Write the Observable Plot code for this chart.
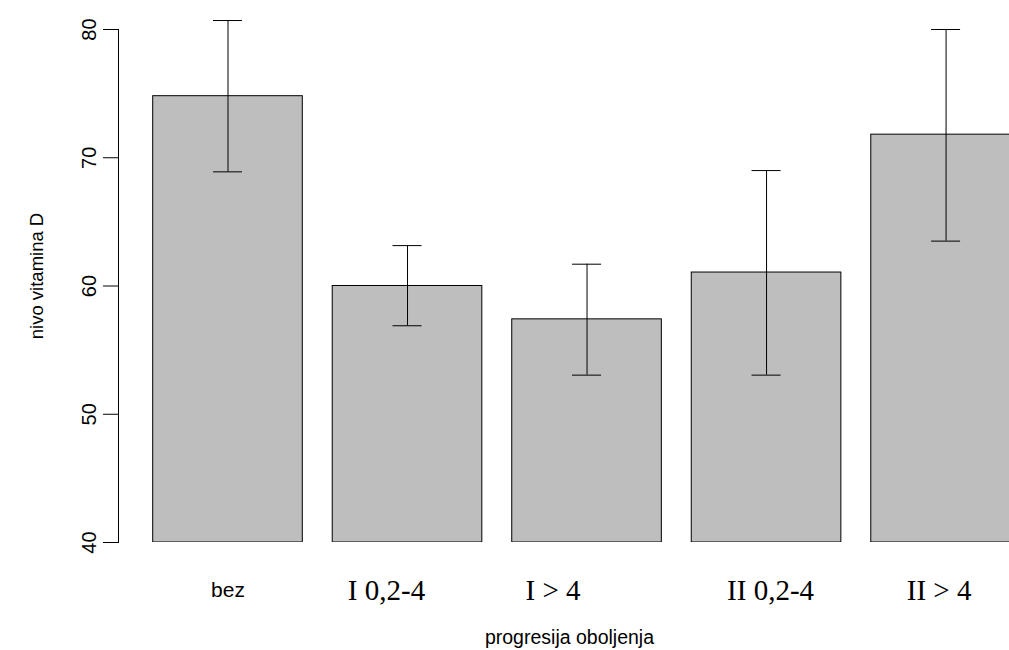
<!DOCTYPE html>
<html>
<head>
<meta charset="utf-8">
<script src="https://cdn.jsdelivr.net/npm/d3@7"></script>
<script src="https://cdn.jsdelivr.net/npm/@observablehq/plot@0.6"></script>
<style>
  html, body { margin: 0; padding: 0; background: #ffffff; overflow: hidden; }
  #chart svg { display: block; }
</style>
</head>
<body>
<div id="chart"></div>
<script>
// ---- data ----
const categories = ["bez", "I 0,2-4", "I > 4", "II 0,2-4", "II > 4"];
const means = [74.8, 60.0, 57.4, 61.05, 71.8];
const lower = [68.9, 56.9, 53.05, 53.05, 63.5];
const upper = [80.7, 63.15, 61.7, 69.0, 80.0];
const yTicks = [40, 50, 60, 70, 80];
const xTitle = "progresija oboljenja";
const yTitle = "nivo vitamina D";

// ---- layout (R barplot style: width 1, space 0.2) ----
const barWidth = 1, space = 0.2;
const capHalf = 0.097;
const labelDx = [0, -21, -34, 4, -7];
const xMin = -0.032, xMax = 5.924;

const rows = categories.map((c, i) => {
  const x1 = space + i * (barWidth + space);
  return {i, cat: c, x1, x2: x1 + barWidth, xc: x1 + barWidth / 2,
          mean: means[i], lo: lower[i], hi: upper[i]};
});
const caps = rows.flatMap(r => [
  {x1: r.xc - capHalf, x2: r.xc + capHalf, y: r.hi},
  {x1: r.xc - capHalf, x2: r.xc + capHalf, y: r.lo}
]);

const chart = Plot.plot({
  width: 1009,
  height: 650,
  marginLeft: 118,
  marginRight: 0,
  marginTop: 29,
  marginBottom: 108,
  style: {background: "#ffffff", color: "#000000"},
  x: {type: "linear", domain: [xMin, xMax], axis: null},
  y: {domain: [40, 80], axis: null},
  marks: [
    Plot.rect(rows, {x1: "x1", x2: "x2", y1: 40, y2: "mean",
      fill: "#bebebe", stroke: "#000000", strokeWidth: 1, clip: true}),
    Plot.ruleX(rows, {x: "xc", y1: "lo", y2: "hi", stroke: "#000000", strokeWidth: 1}),
    Plot.ruleY(caps, {x1: "x1", x2: "x2", y: "y", stroke: "#000000", strokeWidth: 1}),
    // y axis line and ticks
    Plot.frame({anchor: "left", stroke: "#000000", strokeWidth: 1}),
    Plot.axisY({ticks: yTicks, tickSize: 15, tickFormat: () => "", stroke: "#000000", label: null}),
    Plot.text(yTicks, {x: xMin, y: d => d, text: d => String(d), dx: -29, rotate: -90,
      fontSize: 20, fontFamily: "Liberation Sans, Arial, sans-serif", fill: "#000000",
      textAnchor: "middle", lineAnchor: "middle"}),
    // x category labels
    Plot.text(rows.filter(r => r.i === 0), {x: "xc", y: 40, text: "cat", dy: 48,
      fontSize: 21, fontFamily: "Liberation Sans, Arial, sans-serif", fill: "#000000",
      lineAnchor: "middle"}),
    ...rows.filter(r => r.i > 0).map(r => Plot.text([r], {x: "xc", y: 40, text: "cat", dy: 48,
      dx: labelDx[r.i],
      fontSize: 29, fontFamily: "Liberation Serif, Times New Roman, serif", fill: "#000000",
      lineAnchor: "middle"})),
    // axis titles
    Plot.text([yTitle], {frameAnchor: "left", dx: -81, dy: -10, rotate: -90, text: d => d,
      fontSize: 18.5, fontFamily: "Liberation Sans, Arial, sans-serif", fill: "#000000",
      lineAnchor: "middle", textAnchor: "middle"}),
    Plot.text([xTitle], {frameAnchor: "bottom", dx: 5.5, dy: 95, text: d => d,
      fontSize: 19.5, fontFamily: "Liberation Sans, Arial, sans-serif", fill: "#000000",
      lineAnchor: "middle", textAnchor: "middle"})
  ]
});
document.getElementById("chart").appendChild(chart);
</script>
</body>
</html>
